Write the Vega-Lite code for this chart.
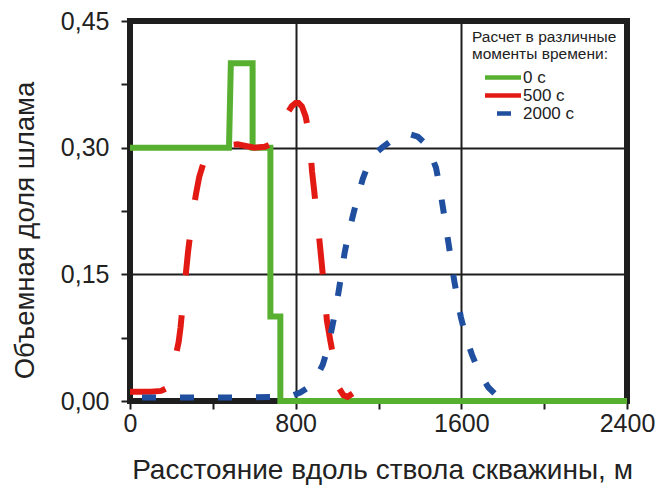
{
  "$schema": "https://vega.github.io/schema/vega-lite/v6.json",
  "width": 497,
  "height": 380,
  "autosize": {"type": "none"},
  "padding": {"left": 130, "top": 21, "right": 35, "bottom": 84},
  "background": "white",
  "config": {
    "font": "Liberation Sans",
    "view": {"stroke": "#1e1e1e", "strokeWidth": 6}
  },
  "data": {
    "values": [
      {"t": "0 с", "i": 0, "x": 0, "y": 0.30},
      {"t": "0 с", "i": 1, "x": 478, "y": 0.30},
      {"t": "0 с", "i": 2, "x": 487, "y": 0.40},
      {"t": "0 с", "i": 3, "x": 592, "y": 0.40},
      {"t": "0 с", "i": 4, "x": 592, "y": 0.30},
      {"t": "0 с", "i": 5, "x": 678, "y": 0.30},
      {"t": "0 с", "i": 6, "x": 678, "y": 0.10},
      {"t": "0 с", "i": 7, "x": 726, "y": 0.10},
      {"t": "0 с", "i": 8, "x": 726, "y": 0.0},
      {"t": "0 с", "i": 9, "x": 2400, "y": 0.0},

      {"t": "500 с", "i": 0, "x": 0, "y": 0.011},
      {"t": "500 с", "i": 1, "x": 100, "y": 0.011},
      {"t": "500 с", "i": 2, "x": 150, "y": 0.012},
      {"t": "500 с", "i": 3, "x": 175, "y": 0.015},
      {"t": "500 с", "i": 4, "x": 190, "y": 0.022},
      {"t": "500 с", "i": 5, "x": 205, "y": 0.035},
      {"t": "500 с", "i": 6, "x": 222, "y": 0.055},
      {"t": "500 с", "i": 7, "x": 235, "y": 0.070},
      {"t": "500 с", "i": 8, "x": 244, "y": 0.087},
      {"t": "500 с", "i": 9, "x": 253, "y": 0.110},
      {"t": "500 с", "i": 10, "x": 262, "y": 0.132},
      {"t": "500 с", "i": 11, "x": 271, "y": 0.154},
      {"t": "500 с", "i": 12, "x": 280, "y": 0.176},
      {"t": "500 с", "i": 13, "x": 292, "y": 0.200},
      {"t": "500 с", "i": 14, "x": 305, "y": 0.225},
      {"t": "500 с", "i": 15, "x": 320, "y": 0.247},
      {"t": "500 с", "i": 16, "x": 334, "y": 0.265},
      {"t": "500 с", "i": 17, "x": 355, "y": 0.282},
      {"t": "500 с", "i": 18, "x": 380, "y": 0.293},
      {"t": "500 с", "i": 19, "x": 420, "y": 0.300},
      {"t": "500 с", "i": 20, "x": 470, "y": 0.303},
      {"t": "500 с", "i": 21, "x": 520, "y": 0.304},
      {"t": "500 с", "i": 22, "x": 600, "y": 0.300},
      {"t": "500 с", "i": 23, "x": 650, "y": 0.301},
      {"t": "500 с", "i": 24, "x": 680, "y": 0.304},
      {"t": "500 с", "i": 25, "x": 695, "y": 0.309},
      {"t": "500 с", "i": 26, "x": 720, "y": 0.322},
      {"t": "500 с", "i": 27, "x": 750, "y": 0.337},
      {"t": "500 с", "i": 28, "x": 781, "y": 0.349},
      {"t": "500 с", "i": 29, "x": 800, "y": 0.353},
      {"t": "500 с", "i": 30, "x": 814, "y": 0.353},
      {"t": "500 с", "i": 31, "x": 830, "y": 0.349},
      {"t": "500 с", "i": 32, "x": 848, "y": 0.337},
      {"t": "500 с", "i": 33, "x": 863, "y": 0.318},
      {"t": "500 с", "i": 34, "x": 872, "y": 0.295},
      {"t": "500 с", "i": 35, "x": 879, "y": 0.272},
      {"t": "500 с", "i": 36, "x": 889, "y": 0.250},
      {"t": "500 с", "i": 37, "x": 898, "y": 0.229},
      {"t": "500 с", "i": 38, "x": 909, "y": 0.204},
      {"t": "500 с", "i": 39, "x": 919, "y": 0.180},
      {"t": "500 с", "i": 40, "x": 927, "y": 0.160},
      {"t": "500 с", "i": 41, "x": 935, "y": 0.139},
      {"t": "500 с", "i": 42, "x": 943, "y": 0.117},
      {"t": "500 с", "i": 43, "x": 951, "y": 0.095},
      {"t": "500 с", "i": 44, "x": 967, "y": 0.072},
      {"t": "500 с", "i": 45, "x": 983, "y": 0.051},
      {"t": "500 с", "i": 46, "x": 995, "y": 0.030},
      {"t": "500 с", "i": 47, "x": 1010, "y": 0.015},
      {"t": "500 с", "i": 48, "x": 1030, "y": 0.007},
      {"t": "500 с", "i": 49, "x": 1050, "y": 0.005},
      {"t": "500 с", "i": 50, "x": 1075, "y": 0.009},

      {"t": "2000 с", "i": 0, "x": 0, "y": 0.004},
      {"t": "2000 с", "i": 1, "x": 500, "y": 0.004},
      {"t": "2000 с", "i": 2, "x": 750, "y": 0.005},
      {"t": "2000 с", "i": 3, "x": 790, "y": 0.007},
      {"t": "2000 с", "i": 4, "x": 822, "y": 0.010},
      {"t": "2000 с", "i": 5, "x": 860, "y": 0.016},
      {"t": "2000 с", "i": 6, "x": 900, "y": 0.028},
      {"t": "2000 с", "i": 7, "x": 931, "y": 0.043},
      {"t": "2000 с", "i": 8, "x": 955, "y": 0.063},
      {"t": "2000 с", "i": 9, "x": 975, "y": 0.086},
      {"t": "2000 с", "i": 10, "x": 992, "y": 0.107},
      {"t": "2000 с", "i": 11, "x": 1007, "y": 0.129},
      {"t": "2000 с", "i": 12, "x": 1022, "y": 0.152},
      {"t": "2000 с", "i": 13, "x": 1036, "y": 0.175},
      {"t": "2000 с", "i": 14, "x": 1055, "y": 0.198},
      {"t": "2000 с", "i": 15, "x": 1076, "y": 0.219},
      {"t": "2000 с", "i": 16, "x": 1100, "y": 0.242},
      {"t": "2000 с", "i": 17, "x": 1124, "y": 0.263},
      {"t": "2000 с", "i": 18, "x": 1150, "y": 0.280},
      {"t": "2000 с", "i": 19, "x": 1180, "y": 0.292},
      {"t": "2000 с", "i": 20, "x": 1217, "y": 0.300},
      {"t": "2000 с", "i": 21, "x": 1260, "y": 0.308},
      {"t": "2000 с", "i": 22, "x": 1300, "y": 0.313},
      {"t": "2000 с", "i": 23, "x": 1350, "y": 0.316},
      {"t": "2000 с", "i": 24, "x": 1390, "y": 0.313},
      {"t": "2000 с", "i": 25, "x": 1426, "y": 0.305},
      {"t": "2000 с", "i": 26, "x": 1450, "y": 0.294},
      {"t": "2000 с", "i": 27, "x": 1478, "y": 0.276},
      {"t": "2000 с", "i": 28, "x": 1495, "y": 0.254},
      {"t": "2000 с", "i": 29, "x": 1510, "y": 0.231},
      {"t": "2000 с", "i": 30, "x": 1524, "y": 0.209},
      {"t": "2000 с", "i": 31, "x": 1538, "y": 0.187},
      {"t": "2000 с", "i": 32, "x": 1552, "y": 0.164},
      {"t": "2000 с", "i": 33, "x": 1566, "y": 0.142},
      {"t": "2000 с", "i": 34, "x": 1582, "y": 0.120},
      {"t": "2000 с", "i": 35, "x": 1598, "y": 0.099},
      {"t": "2000 с", "i": 36, "x": 1622, "y": 0.076},
      {"t": "2000 с", "i": 37, "x": 1651, "y": 0.055},
      {"t": "2000 с", "i": 38, "x": 1690, "y": 0.032},
      {"t": "2000 с", "i": 39, "x": 1731, "y": 0.016},
      {"t": "2000 с", "i": 40, "x": 1760, "y": 0.009}
    ]
  },
  "mark": {"type": "line", "strokeWidth": 6},
  "encoding": {
    "x": {
      "field": "x",
      "type": "quantitative",
      "scale": {"domain": [0, 2400], "nice": false},
      "axis": {
        "title": "Расстояние вдоль ствола скважины, м",
        "values": [0, 400, 800, 1200, 1600, 2000, 2400],
        "labelExpr": "datum.value % 800 === 0 ? format(datum.value, 'd') : ''",
        "labelFlush": false,
        "labelOverlap": false,
        "domain": false,
        "grid": true,
        "gridColor": "#1e1e1e",
        "gridWidth": 2,
        "gridOpacity": {"condition": {"test": "datum.value === 800 || datum.value === 1600", "value": 1}, "value": 0},
        "tickColor": "#1e1e1e",
        "tickWidth": 2,
        "tickSize": 8,
        "labelFontSize": 25,
        "labelColor": "#222222",
        "labelPadding": 2,
        "titleFontSize": 28,
        "titleFontWeight": "normal",
        "titleColor": "#222222",
        "titleX": 252,
        "titleY": 77,
        "titleBaseline": "alphabetic"
      }
    },
    "y": {
      "field": "y",
      "type": "quantitative",
      "scale": {"domain": [0, 0.45], "nice": false},
      "axis": {
        "title": "Объемная доля шлама",
        "values": [0, 0.075, 0.15, 0.225, 0.3, 0.375, 0.45],
        "labelExpr": "(abs(datum.value*100 % 15) < 0.01 || abs(datum.value*100 % 15 - 15) < 0.01) ? replace(format(datum.value, '.2f'), '.', ',') : ''",
        "labelOverlap": false,
        "labelFlush": false,
        "domain": false,
        "grid": true,
        "gridColor": "#1e1e1e",
        "gridWidth": 2,
        "gridOpacity": {"condition": {"test": "datum.value === 0.15 || datum.value === 0.3", "value": 1}, "value": 0},
        "tickColor": "#1e1e1e",
        "tickWidth": 2,
        "tickSize": 9,
        "labelFontSize": 25,
        "labelColor": "#222222",
        "labelPadding": 12,
        "titleFontSize": 27.5,
        "titleFontWeight": "normal",
        "titleColor": "#222222",
        "titleX": -97,
        "titleY": 209,
        "titleBaseline": "alphabetic"
      }
    },
    "color": {
      "field": "t",
      "type": "nominal",
      "scale": {"domain": ["0 с", "500 с", "2000 с"], "range": ["#58b030", "#e31a13", "#1f4f9e"]},
      "legend": {
        "orient": "none",
        "legendX": 342,
        "legendY": 9,
        "title": ["Расчет в различные", "моменты времени:"],
        "titleFontSize": 15.5,
        "titleFontWeight": "normal",
        "titleColor": "#222222",
        "titleLineHeight": 17,
        "titlePadding": 6.5,
        "labelFontSize": 17,
        "labelColor": "#222222",
        "labelOffset": 11.5,
        "symbolType": "M-4,0H4",
        "symbolSize": 81,
        "symbolStrokeWidth": 4.5,
        "symbolOffset": 22.5,
        "rowPadding": -2.5,
        "padding": 0,
        "encode": {
          "symbols": {
            "update": {
              "fill": {"value": "transparent"},
              "strokeDash": {"signal": "datum.value === '500 с' ? [15,16] : datum.value === '2000 с' ? [5,11] : [25,30]"}
            }
          }
        }
      }
    },
    "strokeDash": {
      "field": "t",
      "type": "nominal",
      "scale": {"domain": ["0 с", "500 с", "2000 с"], "range": [[1, 0], [36, 40], [0, 12, 14, 12]]},
      "legend": null
    },
    "order": {"field": "i", "type": "quantitative"}
  }
}
